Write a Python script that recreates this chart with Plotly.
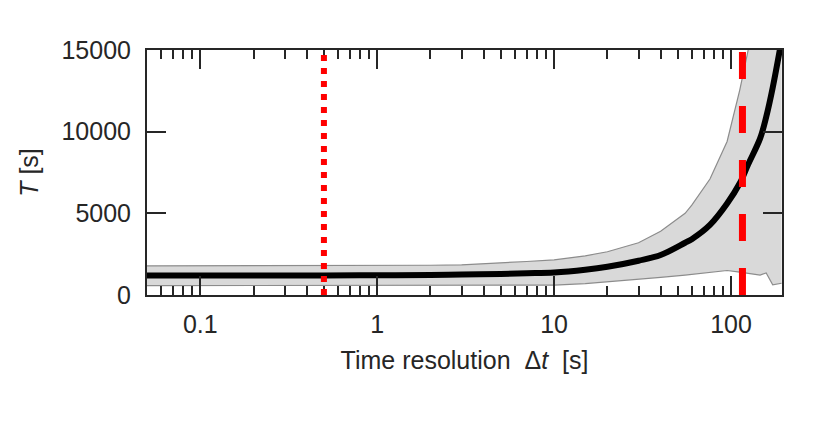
import plotly.graph_objects as go

# time resolution [s]
dt = [0.05, 0.1, 0.2, 0.5, 1, 2, 3, 5, 7, 10, 15, 20, 30, 40, 55, 60,
      76, 95, 112, 125, 146, 158, 172, 193]
# mean T [s]
t_mean = [1200, 1200, 1200, 1200, 1210, 1230, 1250, 1290, 1330, 1380, 1550, 1730,
          2100, 2450, 3200, 3420, 4290, 5600, 6840, 8000, 9590, 10900, 12700, 15600]
# upper / lower envelope
t_upper = [1780, 1780, 1780, 1790, 1800, 1820, 1850, 1950, 2050, 2150, 2400, 2650,
           3200, 3900, 5000, 5500, 7100, 9400, 12550, 15000, 19000, 21000, 23000, 26000]
t_lower = [570, 570, 570, 575, 580, 585, 590, 595, 600, 610, 700, 800,
           960, 1080, 1220, 1260, 1380, 1500, 1400, 1330, 1220, 1350, 620, 720]

dt_min = 0.5    # dotted red line
dt_max = 116    # dashed red line

x_ticks = [0.1, 1, 10, 100]
x_labels = ['0.1', '1', '10', '100']
x_minor = [0.05, 0.06, 0.07, 0.08, 0.09, 0.2, 0.3, 0.4, 0.5, 0.6, 0.7, 0.8, 0.9,
           2, 3, 4, 5, 6, 7, 8, 9, 20, 30, 40, 50, 60, 70, 80, 90]
y_ticks = [0, 5000, 10000, 15000]
y_labels = ['0', '5000', '10000', '15000']

fig = go.Figure()

fig.add_trace(go.Scatter(
    x=dt, y=t_lower, mode='lines',
    line=dict(color='#8c8c8c', width=1.2),
    showlegend=False
))
fig.add_trace(go.Scatter(
    x=dt, y=t_upper, mode='lines', fill='tonexty', fillcolor='#d9d9d9',
    line=dict(color='#8c8c8c', width=1.2),
    showlegend=False
))
fig.add_trace(go.Scatter(
    x=dt, y=t_mean, mode='lines', line_shape='spline',
    line=dict(color='black', width=6),
    showlegend=False
))

fig.add_vline(x=dt_min, line=dict(color='#ff0000', width=6, dash='6px,7px'))
fig.add_vline(x=dt_max, line=dict(color='#ff0000', width=7, dash='27px,27px'))

txt = dict(family='Liberation Sans, Arial, sans-serif', size=25, color='#262626')

# the page puts the plot 8px in from the top-left corner
fig.update_layout(
    width=822, height=433,
    margin=dict(l=139, r=48, t=42, b=146),
    plot_bgcolor='white',
    paper_bgcolor='white',
    font=txt,
    xaxis=dict(
        type='log', automargin=False,
        range=[-1.301, 2.288],
        tickvals=x_ticks, ticktext=x_labels, tickfont=txt, ticklabelstandoff=6,
        ticks='inside', ticklen=19, tickwidth=1.5, tickcolor='#262626',
        minor=dict(tickvals=x_minor, ticks='inside', ticklen=9,
                   tickwidth=1.5, tickcolor='#262626'),
        showline=True, linecolor='#262626', linewidth=2, mirror='ticks',
        showgrid=False, zeroline=False,
        title=dict(text='Time resolution&nbsp;&nbsp;Δ<i>t</i>&nbsp;&nbsp;[s]',
                   font=txt, standoff=14),
    ),
    yaxis=dict(
        automargin=False,
        range=[0, 15000],
        tickvals=y_ticks, ticktext=y_labels, tickfont=txt, ticklabelstandoff=9,
        ticks='inside', ticklen=19, tickwidth=1.5, tickcolor='#262626',
        showline=True, linecolor='#262626', linewidth=2, mirror='ticks',
        showgrid=False, zeroline=False,
        title=dict(text='<i>T</i> [s]', font=txt, standoff=16),
    ),
)

fig.write_html("out.html")
